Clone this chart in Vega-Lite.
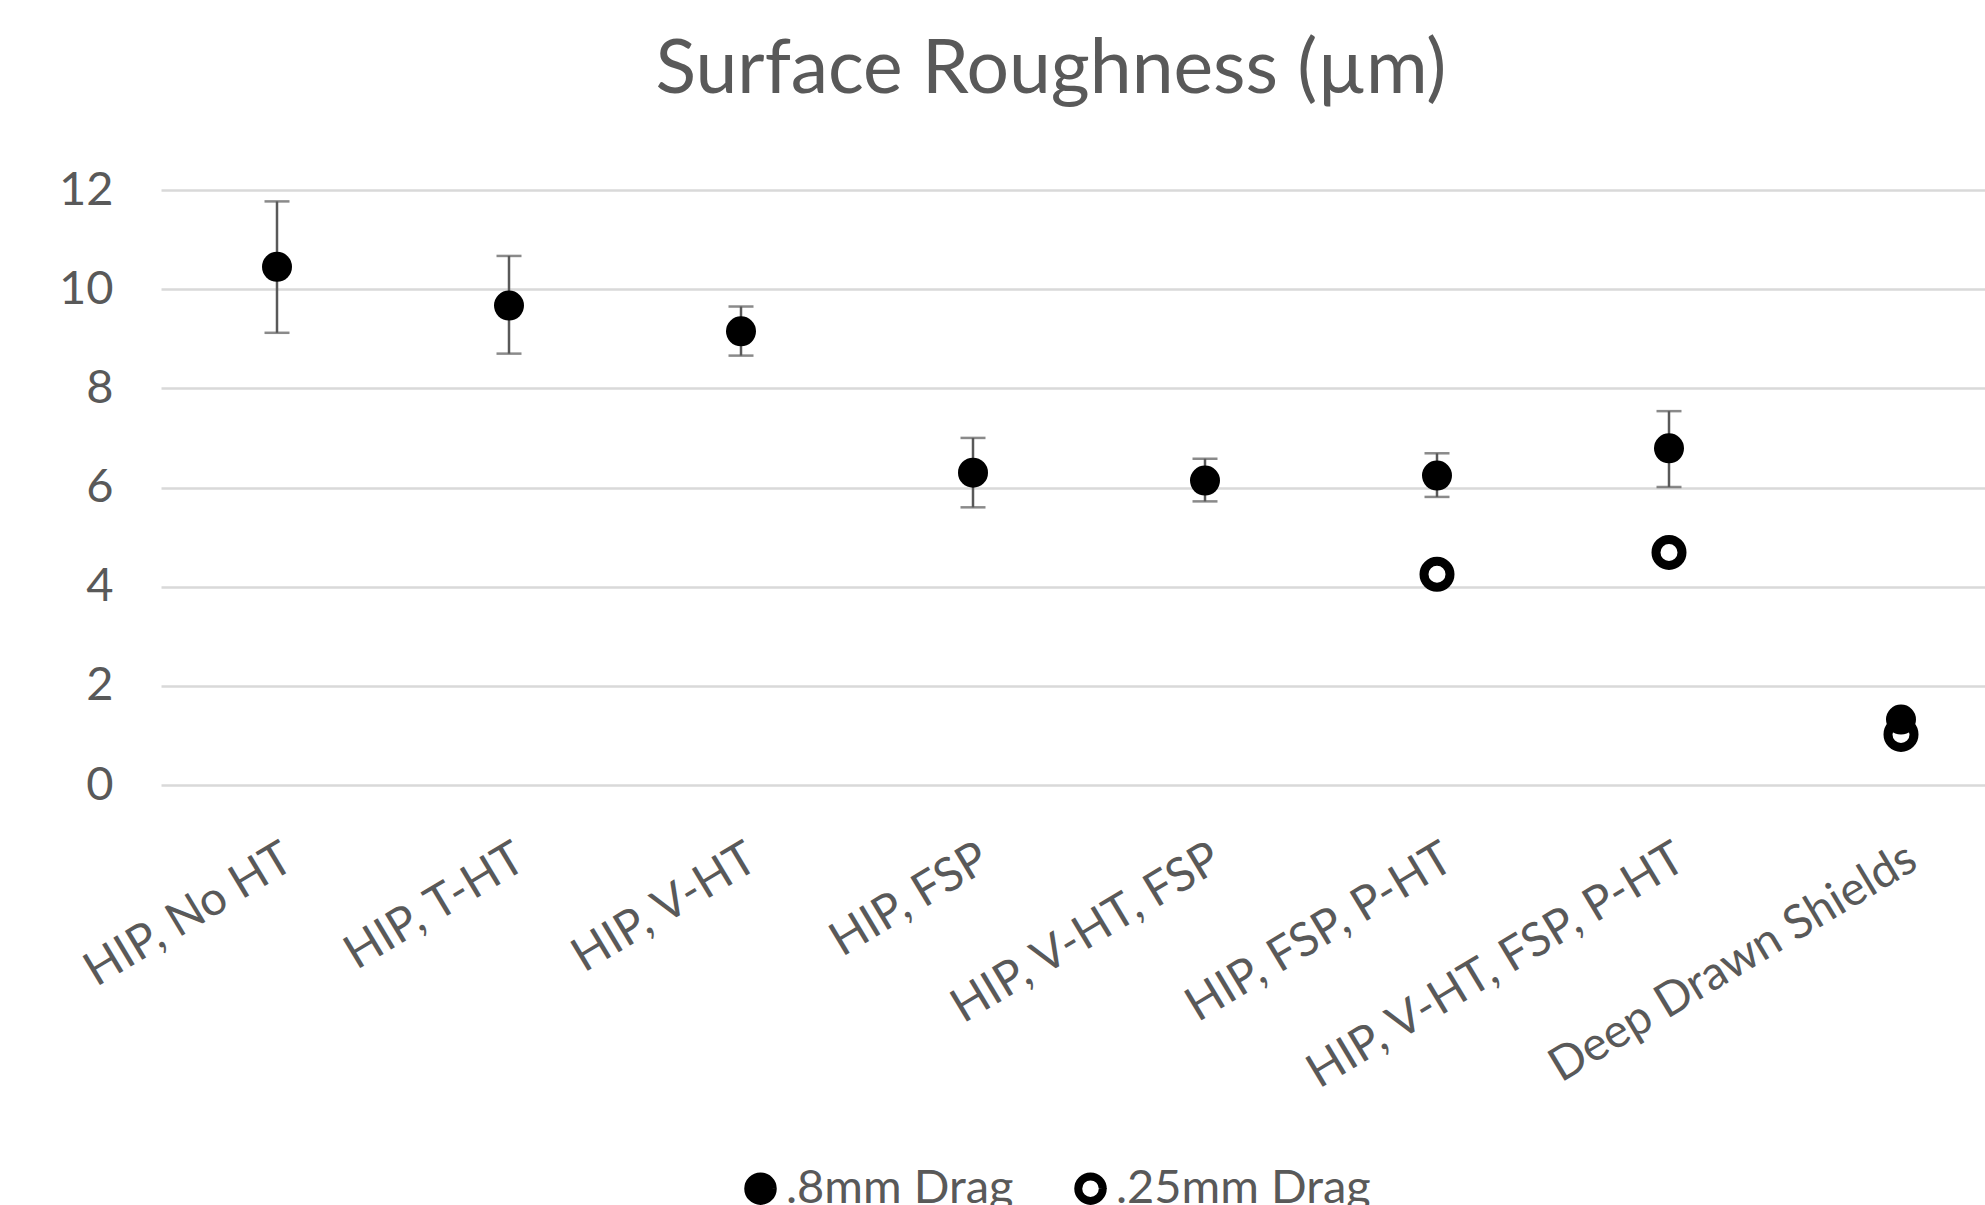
{
  "$schema": "https://vega.github.io/schema/vega-lite/v6.json",
  "width": 1824,
  "height": 595,
  "autosize": "none",
  "padding": {"left": 161, "top": 190, "right": 0, "bottom": 420},
  "background": "white",
  "config": {"font": "Lato", "view": {"stroke": null}},
  "title": {"text": "Surface Roughness (µm)", "fontSize": 75, "font": "Lato", "fontWeight": "normal", "color": "#595959", "offset": 57, "dx": -22},
  "data": {"values": [
    {"cat": "HIP, No HT", "series": ".8mm Drag", "value": 10.45, "lo": 9.12, "hi": 11.77},
    {"cat": "HIP, T-HT", "series": ".8mm Drag", "value": 9.67, "lo": 8.7, "hi": 10.67},
    {"cat": "HIP, V-HT", "series": ".8mm Drag", "value": 9.15, "lo": 8.66, "hi": 9.65},
    {"cat": "HIP, FSP", "series": ".8mm Drag", "value": 6.3, "lo": 5.6, "hi": 7.0},
    {"cat": "HIP, V-HT, FSP", "series": ".8mm Drag", "value": 6.14, "lo": 5.72, "hi": 6.58},
    {"cat": "HIP, FSP, P-HT", "series": ".8mm Drag", "value": 6.24, "lo": 5.81, "hi": 6.69},
    {"cat": "HIP, V-HT, FSP, P-HT", "series": ".8mm Drag", "value": 6.79, "lo": 6.01, "hi": 7.54},
    {"cat": "Deep Drawn Shields", "series": ".8mm Drag", "value": 1.32, "lo": null, "hi": null},
    {"cat": "HIP, FSP, P-HT", "series": ".25mm Drag", "value": 4.25, "lo": null, "hi": null},
    {"cat": "HIP, V-HT, FSP, P-HT", "series": ".25mm Drag", "value": 4.69, "lo": null, "hi": null},
    {"cat": "Deep Drawn Shields", "series": ".25mm Drag", "value": 1.02, "lo": null, "hi": null}
  ]},
  "encoding": {
    "x": {
      "field": "cat", "type": "nominal", "sort": null,
      "scale": {"range": [0, 1856], "paddingInner": 0, "paddingOuter": 0},
      "axis": {"title": null, "labelAngle": -31, "labelFontSize": 47, "labelColor": "#595959", "ticks": false, "domain": false, "labelPadding": 50, "labelDx": -20, "grid": false, "labelFont": "Lato", "labelLimit": 0, "labelOverlap": false}
    }
  },
  "layer": [
    {
      "mark": {"type": "rule", "color": "#595959", "strokeWidth": 2.5},
      "encoding": {
        "y": {"field": "lo", "type": "quantitative", "scale": {"domain": [0, 12], "nice": false},
          "axis": {"title": null, "values": [0, 2, 4, 6, 8, 10, 12], "grid": true, "gridColor": "#d9d9d9", "gridWidth": 2.5, "ticks": false, "domain": false, "labelFontSize": 47, "labelColor": "#595959", "labelPadding": 48, "labelFont": "Lato"}},
        "y2": {"field": "hi"}
      }
    },
    {
      "mark": {"type": "tick", "color": "#595959", "thickness": 2.5, "size": 25},
      "encoding": {"y": {"field": "lo", "type": "quantitative"}}
    },
    {
      "mark": {"type": "tick", "color": "#595959", "thickness": 2.5, "size": 25},
      "encoding": {"y": {"field": "hi", "type": "quantitative"}}
    },
    {
      "transform": [{"filter": "datum.series === '.8mm Drag'"}],
      "mark": {"type": "point", "shape": "circle", "filled": true, "size": 900, "strokeWidth": 0, "opacity": 1},
      "encoding": {
        "y": {"field": "value", "type": "quantitative"},
        "fill": {"field": "series", "type": "nominal",
          "scale": {"domain": [".8mm Drag", ".25mm Drag"], "range": ["black", "transparent"]},
          "legend": {"title": null, "orient": "none", "legendX": 576, "legendY": 975, "direction": "horizontal", "labelFontSize": 47, "labelColor": "#595959", "labelFont": "Lato", "labelLimit": 0, "symbolSize": 600, "symbolStrokeWidth": 8, "symbolStrokeColor": "black", "labelOffset": 2, "columnPadding": 48,
            "encode": {"symbols": {"update": {"stroke": {"value": "black"}, "strokeWidth": {"value": 8}}}}}
        }
      }
    },
    {
      "transform": [{"filter": "datum.series === '.25mm Drag'"}],
      "mark": {"type": "point", "shape": "circle", "filled": true, "size": 676, "stroke": "black", "strokeWidth": 9, "opacity": 1},
      "encoding": {
        "y": {"field": "value", "type": "quantitative"},
        "fill": {"field": "series", "type": "nominal"}
      }
    }
  ]
}
